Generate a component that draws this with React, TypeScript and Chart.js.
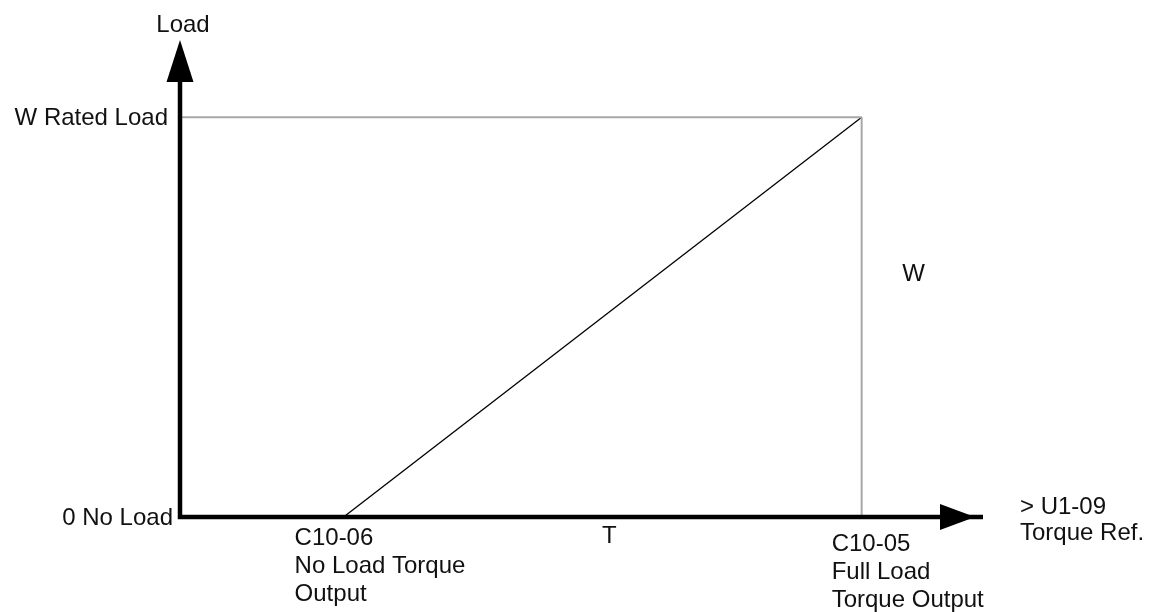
import React, { useEffect, useRef } from "react";
import { Chart, registerables } from "chart.js";

Chart.register(...registerables);

// Torque reference values (x) — C10-06 no-load torque, C10-05 full-load torque
const torqueValues = [24, 100];
// Load (y) reached at each torque value
const loadValues = [0, 100];
const ratedLoad = 100;
const xAxisMax = 117.8;
const yAxisMax = 119.3;
const torqueSpanValue = 63;
const loadSpanValue = 59;

const yAxisTitle = "Load";
const loadTickLabels = ["0 No Load", "W Rated Load"];
const noLoadTorqueLabel = ["C10-06", "No Load Torque", "Output"];
const fullLoadTorqueLabel = ["C10-05", "Full Load", "Torque Output"];
const xAxisTitle = ["> U1-09", "Torque Ref."];
const torqueSpanLabel = "T";
const loadSpanLabel = "W";

const FONT = "24px 'Liberation Sans', Arial, Helvetica, sans-serif";

const diagramPlugin = {
  id: "diagram",
  afterDatasetsDraw(chart: any) {
    const { ctx, chartArea, scales } = chart;
    const xs = scales.x;
    const ys = scales.y;
    const x0 = xs.getPixelForValue(0);
    const y0 = ys.getPixelForValue(0);
    const top = chartArea.top;
    const right = chartArea.right;

    ctx.save();
    ctx.fillStyle = "#000";
    ctx.strokeStyle = "#000";
    ctx.lineWidth = 4.5;
    ctx.lineCap = "butt";
    ctx.beginPath();
    ctx.moveTo(x0, y0 + 2.25);
    ctx.lineTo(x0, top + 30);
    ctx.moveTo(x0 - 2.25, y0);
    ctx.lineTo(right, y0);
    ctx.stroke();

    // y arrow head
    ctx.beginPath();
    ctx.moveTo(x0, top);
    ctx.lineTo(x0 + 13.5, top + 42);
    ctx.lineTo(x0 - 13.5, top + 42);
    ctx.closePath();
    ctx.fill();
    // x arrow head
    ctx.beginPath();
    ctx.moveTo(right - 8, y0);
    ctx.lineTo(right - 43, y0 - 13);
    ctx.lineTo(right - 43, y0 + 13);
    ctx.closePath();
    ctx.fill();

    // texts
    ctx.font = FONT;
    ctx.fillStyle = "#111";
    ctx.textBaseline = "alphabetic";

    ctx.textAlign = "center";
    ctx.fillText(yAxisTitle, x0 + 3, top - 8);

    ctx.textAlign = "right";
    ctx.fillText(loadTickLabels[1], x0 - 12, ys.getPixelForValue(ratedLoad) + 8);
    ctx.fillText(loadTickLabels[0], x0 - 7, y0 + 8);

    ctx.textAlign = "left";
    const xa = xs.getPixelForValue(torqueValues[0]);
    noLoadTorqueLabel.forEach((t, i) => ctx.fillText(t, xa - 49, y0 + 28 + i * 28));
    const xb = xs.getPixelForValue(torqueValues[1]);
    fullLoadTorqueLabel.forEach((t, i) => ctx.fillText(t, xb - 30, y0 + 34 + i * 28));
    xAxisTitle.forEach((t, i) => ctx.fillText(t, right + 37, y0 - 3 + i * 26));

    ctx.textAlign = "center";
    ctx.fillText(torqueSpanLabel, xs.getPixelForValue(torqueSpanValue), y0 + 26);
    ctx.fillText(loadSpanLabel, xb + 52, ys.getPixelForValue(loadSpanValue));

    ctx.restore();
  },
};

export default function App() {
  const ref = useRef<HTMLCanvasElement | null>(null);

  useEffect(() => {
    if (!ref.current) return;
    const chart = new Chart(ref.current, {
      type: "line",
      data: {
        datasets: [
          {
            label: "rated load",
            data: [
              { x: 0, y: ratedLoad },
              { x: torqueValues[1], y: ratedLoad },
            ],
            borderColor: "#a8a8a8",
            borderWidth: 2,
            pointRadius: 0,
          },
          {
            label: "full load torque",
            data: [
              { x: torqueValues[1], y: ratedLoad },
              { x: torqueValues[1], y: 0 },
            ],
            borderColor: "#a8a8a8",
            borderWidth: 2,
            pointRadius: 0,
          },
          {
            label: "load",
            data: torqueValues.map((t, i) => ({ x: t, y: loadValues[i] })),
            borderColor: "#000",
            borderWidth: 1.3,
            pointRadius: 0,
          },
        ],
      },
      options: {
        animation: false,
        responsive: false,
        layout: { padding: { left: 180, right: 171, top: 40, bottom: 95 } },
        scales: {
          x: { type: "linear", min: 0, max: xAxisMax, display: false },
          y: { type: "linear", min: 0, max: yAxisMax, display: false },
        },
        plugins: { legend: { display: false }, tooltip: { enabled: false } },
      },
      plugins: [diagramPlugin],
    });
    return () => chart.destroy();
  }, []);

  return (
    <div style={{ position: "fixed", left: 0, top: 0, width: 1154, height: 612, background: "#fff" }}>
      <canvas ref={ref} width={1154} height={612} style={{ display: "block" }} />
    </div>
  );
}
